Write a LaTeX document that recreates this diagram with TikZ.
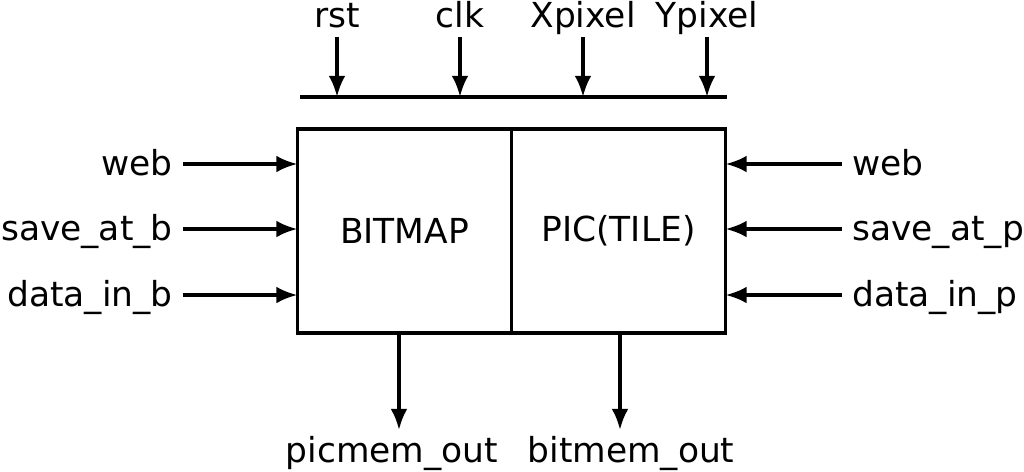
\documentclass[tikz,border=0pt]{standalone}
\usepackage{fontspec}
\setmainfont{DejaVu Sans}
\usetikzlibrary{positioning, arrows, arrows.meta}

\begin{document}
\begin{tikzpicture}[
  x=0.02cm, y=-0.02cm,
  every node/.style={font=\fontsize{19.6}{24}\selectfont},
  blocknode/.style={draw, line width=2.1pt, minimum width=4.28cm, minimum height=4.08cm, inner sep=0pt, outer sep=0pt},
  signode/.style={inner xsep=0.2cm, inner ysep=0.08cm, text height=15.7pt, text depth=3.1pt},
  sigarrow/.style={-{Latex[length=12pt, width=9.5pt]}, line width=2.1pt}
]
  \useasboundingbox (0,0) rectangle (1024,471);

  % Memory blocks
  \node[blocknode] (bitmap) at (404.5,231) {BITMAP};
  \node[blocknode] (pic) at (618.5,231) {PIC(TILE)};

  % Shared bus
  \coordinate (bus_w) at (300,97);
  \coordinate (bus_e) at (727,97);
  \draw[line width=2.1pt] (bus_w) -- (bus_e);

  % Top inputs
  \node[signode, anchor=base] (rst) at (337,27) {rst};
  \node[signode, anchor=base] (clk) at (460,27) {clk};
  \node[signode, anchor=base] (xpixel) at (583,27) {Xpixel};
  \node[signode, anchor=base] (ypixel) at (707,27) {Ypixel};
  \foreach \n in {rst, clk, xpixel, ypixel}
    \draw[sigarrow] (\n.south) -- (\n.south |- bus_w);

  % Bitmap inputs
  \node[signode, anchor=east] (web_b) at (183,164) {web};
  \node[signode, anchor=east] (save_b) at (183,229) {save\_at\_b};
  \node[signode, anchor=east] (data_b) at (183,295) {data\_in\_b};
  \foreach \n in {web_b, save_b, data_b}
    \draw[sigarrow] (\n.east) -- (\n.east -| bitmap.west);

  % Pic inputs
  \node[signode, anchor=west] (web_p) at (842,164) {web};
  \node[signode, anchor=west] (save_p) at (842,229) {save\_at\_p};
  \node[signode, anchor=west] (data_p) at (842,295) {data\_in\_p};
  \foreach \n in {web_p, save_p, data_p}
    \draw[sigarrow] (\n.west) -- (\n.west -| pic.east);

  % Outputs
  \coordinate (tap_b) at (399,333);
  \coordinate (tap_p) at (620,333);
  \node[signode, anchor=base] (picmem) at (392,462) {picmem\_out};
  \node[signode, anchor=base] (bitmem) at (631,462) {bitmem\_out};
  \draw[sigarrow] (tap_b) -- (tap_b |- picmem.north);
  \draw[sigarrow] (tap_p) -- (tap_p |- bitmem.north);
\end{tikzpicture}
\end{document}
